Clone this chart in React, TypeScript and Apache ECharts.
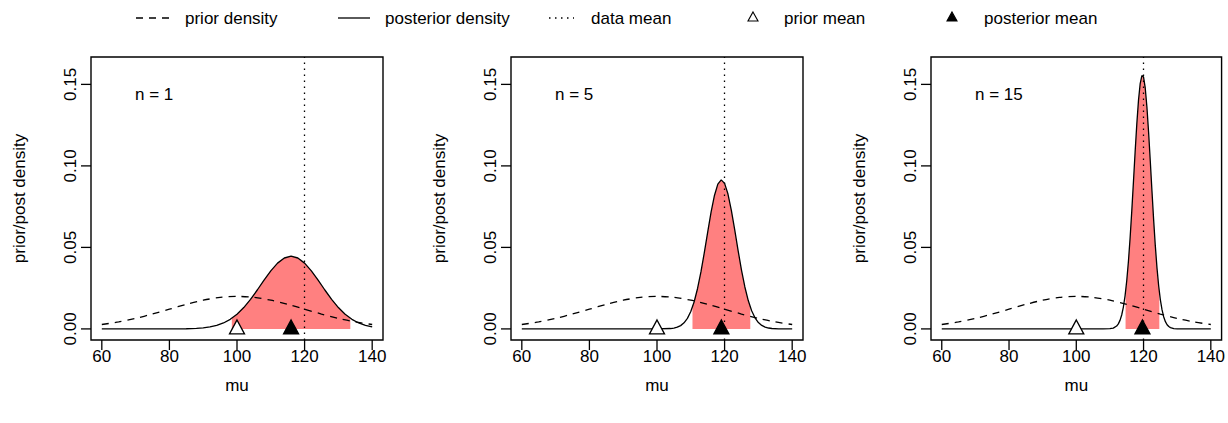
import React, { useEffect, useRef } from "react";
import * as echarts from "echarts";

// ---- data ----
const sampleSizes = [1, 5, 15];
const priorMean = 100;
const dataMean = 120;
const postMeans = [116, 119.05, 119.67];

const priorMu = [60, 65, 70, 75, 80, 85, 90, 95, 100, 105, 110, 115, 120, 125, 130, 135, 140];
const priorDensity = [0.0027, 0.00431, 0.00648, 0.00913, 0.0121, 0.01506, 0.0176, 0.01933, 0.01995, 0.01933, 0.0176, 0.01506, 0.0121, 0.00913, 0.00648, 0.00431, 0.0027];

const postMu1 = [60, 70, 75, 80, 85, 88, 90, 92, 94, 96, 98, 100, 102, 104, 106, 108, 110, 112, 114, 116, 118, 120, 122, 124, 126, 128, 130, 132, 134, 136, 138, 140];
const postDensity1 = [0, 0, 0, 0.00001, 0.00011, 0.00033, 0.00065, 0.00122, 0.00217, 0.00366, 0.00589, 0.009, 0.0131, 0.01813, 0.02387, 0.0299, 0.03561, 0.04036, 0.0435, 0.0446, 0.0435, 0.04036, 0.03561, 0.0299, 0.02387, 0.01813, 0.0131, 0.009, 0.00589, 0.00366, 0.00217, 0.00122];

const postMu5 = [60, 100, 104, 105, 106, 107, 108, 109, 110, 111, 112, 113, 114, 115, 116, 117, 118, 119, 120, 121, 122, 123, 124, 125, 126, 127, 128, 129, 130, 131, 132, 133, 134, 136, 140];
const postDensity5 = [0, 0.00001, 0.00024, 0.00051, 0.00105, 0.00202, 0.00371, 0.00645, 0.01065, 0.01668, 0.0248, 0.03497, 0.0468, 0.05943, 0.0716, 0.08187, 0.08881, 0.09141, 0.08927, 0.08273, 0.07274, 0.06069, 0.04805, 0.03609, 0.02572, 0.0174, 0.01116, 0.0068, 0.00393, 0.00215, 0.00112, 0.00055, 0.00026, 0.00005, 0];

const postMu15 = [60, 105, 108, 110, 111, 112, 112.5, 113, 113.5, 114, 114.5, 115, 115.5, 116, 116.5, 117, 117.5, 118, 118.5, 119, 119.5, 120, 120.5, 121, 121.5, 122, 122.5, 123, 123.5, 124, 124.5, 125, 125.5, 126, 126.5, 127, 127.5, 128, 129, 130, 135, 140];
const postDensity15 = [0, 0, 0, 0.00012, 0.0005, 0.00176, 0.00309, 0.00524, 0.00854, 0.01343, 0.0203, 0.02954, 0.04137, 0.05578, 0.07241, 0.09046, 0.1088, 0.12593, 0.14034, 0.15053, 0.15544, 0.15449, 0.14781, 0.13612, 0.12067, 0.10297, 0.08459, 0.06688, 0.05091, 0.03729, 0.0263, 0.01785, 0.01166, 0.00734, 0.00444, 0.00259, 0.00145, 0.00079, 0.0002, 0.00005, 0, 0];

// 95% posterior interval (shaded) and the density at its edges
const bandLow = [98.47, 110.5, 114.65];
const bandHigh = [133.53, 127.6, 124.69];
const bandEdge = [0.00653, 0.01339, 0.02282];

const xTicks = [60, 80, 100, 120, 140];
const yTicks = [0, 0.05, 0.1, 0.15];

const legendLabels = ["prior density", "posterior density", "data mean", "prior mean", "posterior mean"];

// ---- styling / layout ----
const FONT = '"Liberation Sans", Arial, Helvetica, sans-serif';
const FS = 17;
const panelLeft = [91, 511, 931];
const PANEL_TOP = 57;
const PANEL_W = 292;
const PANEL_H = 283;
const LW = 1.3;
const X_MIN = 56.8;
const X_MAX = 143.2;
const Y_MIN = -0.0068;
const Y_MAX = 0.1668;
const TICK_LEN = 10;

const postMus = [postMu1, postMu5, postMu15];
const postDens = [postDensity1, postDensity5, postDensity15];

const zip = (xs: number[], ys: number[]) => xs.map((x, i) => [x, ys[i]]);

function buildGraphic(): any[] {
  const LY = 18;
  const legendText = (x: number, t: string) => ({
    type: "text",
    x,
    y: LY,
    style: { text: t, fill: "#000", font: `${FS}px ${FONT}`, textVerticalAlign: "middle", textAlign: "left" },
  });
  const graphic: any[] = [
    { type: "line", shape: { x1: 136, y1: LY, x2: 170, y2: LY }, style: { stroke: "#000", lineWidth: LW, lineDash: [7, 6] } },
    legendText(185, legendLabels[0]),
    { type: "line", shape: { x1: 338, y1: LY, x2: 370, y2: LY }, style: { stroke: "#000", lineWidth: LW } },
    legendText(385, legendLabels[1]),
    { type: "line", shape: { x1: 549, y1: LY, x2: 574, y2: LY }, style: { stroke: "#000", lineWidth: LW, lineDash: [1.5, 4.5] } },
    legendText(591, legendLabels[2]),
    { type: "polygon", shape: { points: [[753, 12], [758, 21], [748, 21]] }, style: { fill: "#fff", stroke: "#000", lineWidth: 1.1 } },
    legendText(784, legendLabels[3]),
    { type: "polygon", shape: { points: [[952, 12], [957, 21], [947, 21]] }, style: { fill: "#000", stroke: "#000", lineWidth: 1.1 } },
    legendText(984, legendLabels[4]),
  ];
  panelLeft.forEach((l, i) => {
    graphic.push({
      type: "text",
      x: l + 44,
      y: 94,
      style: { text: `n = ${sampleSizes[i]}`, fill: "#000", font: `${FS}px ${FONT}`, textVerticalAlign: "middle", textAlign: "left" },
    });
  });
  return graphic;
}

function buildOption() {
  const grid = panelLeft.map((l) => ({
    left: l,
    top: PANEL_TOP,
    width: PANEL_W,
    height: PANEL_H,
    show: true,
    borderColor: "#000",
    borderWidth: 1.4,
    backgroundColor: "transparent",
  }));

  const textStyle = { color: "#000", fontSize: FS, fontFamily: FONT };

  const xAxis = panelLeft.map((_, i) => ({
    type: "value",
    gridIndex: i,
    min: X_MIN,
    max: X_MAX,
    position: "bottom",
    axisLine: { show: false, onZero: false },
    splitLine: { show: false },
    axisTick: { show: false },
    axisLabel: { ...textStyle, margin: 8, customValues: xTicks },
    name: "mu",
    nameLocation: "middle",
    nameGap: 37,
    nameTextStyle: textStyle,
  }));

  const yAxis = panelLeft.map((_, i) => ({
    type: "value",
    gridIndex: i,
    min: Y_MIN,
    max: Y_MAX,
    position: "left",
    axisLine: { show: false, onZero: false },
    splitLine: { show: false },
    axisTick: { show: false },
    axisLabel: {
      ...textStyle,
      rotate: 90,
      margin: 12,
      customValues: yTicks,
      formatter: (v: number) => v.toFixed(2),
    },
    name: "prior/post density",
    nameLocation: "middle",
    nameGap: 63,
    nameTextStyle: textStyle,
  }));

  const series: any[] = [];
  panelLeft.forEach((_, i) => {
    const mus = postMus[i];
    const dens = postDens[i];
    const band: number[][] = [[bandLow[i], bandEdge[i]]];
    mus.forEach((m, k) => {
      if (m > bandLow[i] && m < bandHigh[i]) band.push([m, dens[k]]);
    });
    band.push([bandHigh[i], bandEdge[i]]);

    series.push({
      type: "line",
      xAxisIndex: i,
      yAxisIndex: i,
      data: band,
      symbol: "none",
      silent: true,
      lineStyle: { width: 0, opacity: 0 },
      areaStyle: { color: "#FF8080", opacity: 1 },
      z: 1,
    });
    series.push({
      type: "line",
      xAxisIndex: i,
      yAxisIndex: i,
      data: zip(priorMu, priorDensity),
      symbol: "none",
      smooth: 0.3,
      silent: true,
      lineStyle: { color: "#000", width: LW, type: [7, 6] },
      z: 2,
    });
    series.push({
      type: "line",
      xAxisIndex: i,
      yAxisIndex: i,
      data: zip(mus, dens),
      symbol: "none",
      silent: true,
      lineStyle: { color: "#000", width: LW },
      markLine: {
        silent: true,
        symbol: ["none", "none"],
        label: { show: false },
        lineStyle: { color: "#000", width: LW, type: [1.5, 4.5] },
        data: [{ xAxis: dataMean }],
      },
      z: 3,
    });
    series.push({
      type: "scatter",
      xAxisIndex: i,
      yAxisIndex: i,
      data: [[priorMean, 0]],
      symbol: "triangle",
      symbolSize: [15, 14],
      symbolOffset: [0, -2],
      silent: true,
      itemStyle: { color: "#fff", borderColor: "#000", borderWidth: LW, opacity: 1 },
      z: 4,
    });
    series.push({
      type: "scatter",
      xAxisIndex: i,
      yAxisIndex: i,
      data: [[postMeans[i], 0]],
      symbol: "triangle",
      symbolSize: [15, 14],
      symbolOffset: [0, -2],
      silent: true,
      itemStyle: { color: "#000", borderColor: "#000", borderWidth: LW, opacity: 1 },
      z: 4,
    });
    // tick marks on the x axis, placed through the axis scale
    series.push({
      type: "custom",
      xAxisIndex: i,
      yAxisIndex: i,
      clip: false,
      silent: true,
      data: xTicks.map((v) => [v, Y_MIN]),
      renderItem: (_p: any, api: any) => {
        const pt = api.coord([api.value(0), api.value(1)]);
        return {
          type: "line",
          shape: { x1: pt[0], y1: pt[1], x2: pt[0], y2: pt[1] + TICK_LEN },
          style: { stroke: "#000", lineWidth: LW },
        };
      },
      z: 5,
    });
    // tick marks on the y axis
    series.push({
      type: "custom",
      xAxisIndex: i,
      yAxisIndex: i,
      clip: false,
      silent: true,
      data: yTicks.map((v) => [X_MIN, v]),
      renderItem: (_p: any, api: any) => {
        const pt = api.coord([api.value(0), api.value(1)]);
        return {
          type: "line",
          shape: { x1: pt[0] - TICK_LEN, y1: pt[1], x2: pt[0], y2: pt[1] },
          style: { stroke: "#000", lineWidth: LW },
        };
      },
      z: 5,
    });
  });

  return {
    animation: false,
    backgroundColor: "#fff",
    grid,
    xAxis,
    yAxis,
    series,
    graphic: buildGraphic(),
  };
}

export default function App() {
  const ref = useRef<HTMLDivElement>(null);
  useEffect(() => {
    document.body.style.margin = "0";
    const chart = echarts.init(ref.current as HTMLDivElement, null, { renderer: "svg" });
    chart.setOption(buildOption() as any);
    return () => chart.dispose();
  }, []);
  return <div ref={ref} style={{ width: 1228, height: 423 }} />;
}
